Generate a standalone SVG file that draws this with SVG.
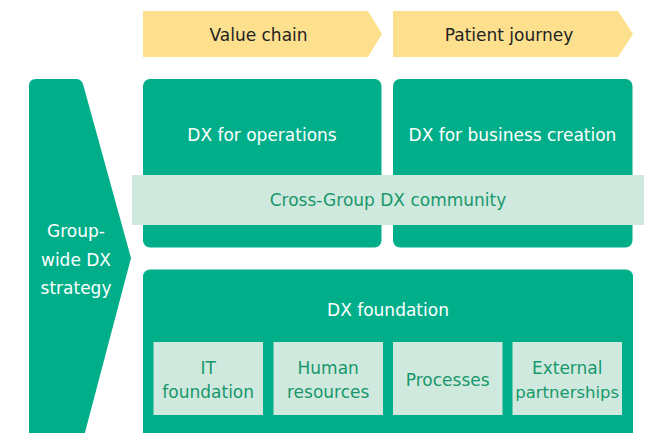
<svg xmlns="http://www.w3.org/2000/svg" width="659" height="433" viewBox="0 0 659 433">
<style>
text{font-family:"DejaVu Sans","Liberation Sans",sans-serif;font-size:17px;text-anchor:middle}
.arrow{fill:#fde08e}
.green{fill:#00af8a}
.light{fill:#d0e9df}
.dark{fill:#222222}
.white{fill:#ffffff}
.gtext{fill:#17986a}
</style>
<rect width="659" height="433" fill="#ffffff"/>
<g id="value-chain">
<polygon class="arrow" points="143,11 368,11 382,34 368,57 143,57"/>
<text class="dark" x="258.5" y="41">Value chain</text>
</g>
<g id="patient-journey">
<polygon class="arrow" points="393,11 618,11 633,34 618,57 393,57"/>
<text class="dark" x="509" y="41">Patient journey</text>
</g>
<g id="group-wide-dx-strategy">
<path class="green" d="M29,86 Q29,79 36,79 L76,79 Q81,79 83,84 L131,258 L83,440 L29,440 Z"/>
<text class="white" x="76" y="237">Group-</text>
<text class="white" x="76" y="265.5">wide DX</text>
<text class="white" x="76" y="294">strategy</text>
</g>
<g id="dx-for-operations">
<rect class="green" x="143" y="79" width="238.5" height="168.5" rx="7"/>
<text class="white" x="262" y="140.5">DX for operations</text>
</g>
<g id="dx-for-business-creation">
<rect class="green" x="393" y="79" width="239.5" height="168.5" rx="7"/>
<text class="white" x="512.5" y="140.5">DX for business creation</text>
</g>
<g id="cross-group-dx-community">
<rect class="light" x="132" y="175" width="512" height="50"/>
<text class="gtext" x="388" y="205.5">Cross-Group DX community</text>
</g>
<g id="dx-foundation">
<rect class="green" x="143" y="269.5" width="490" height="180" rx="7"/>
<text class="white" x="388" y="316">DX foundation</text>
</g>
<g id="it-foundation">
<rect class="light" x="153.5" y="342" width="109.5" height="73"/>
<text class="gtext" x="208.2" y="373.5">IT</text>
<text class="gtext" x="208.2" y="397.5">foundation</text>
</g>
<g id="human-resources">
<rect class="light" x="273.5" y="342" width="109.5" height="73"/>
<text class="gtext" x="328.2" y="373.5">Human</text>
<text class="gtext" x="328.2" y="397.5">resources</text>
</g>
<g id="processes">
<rect class="light" x="393" y="342" width="109.5" height="73"/>
<text class="gtext" x="447.7" y="385.5">Processes</text>
</g>
<g id="external-partnerships">
<rect class="light" x="512.5" y="342" width="109.5" height="73"/>
<text class="gtext" x="567.2" y="373.5">External</text>
<text class="gtext" x="567.2" y="397.5" style="font-size:16.5px">partnerships</text>
</g>
<g id="connectors"></g>
</svg>
